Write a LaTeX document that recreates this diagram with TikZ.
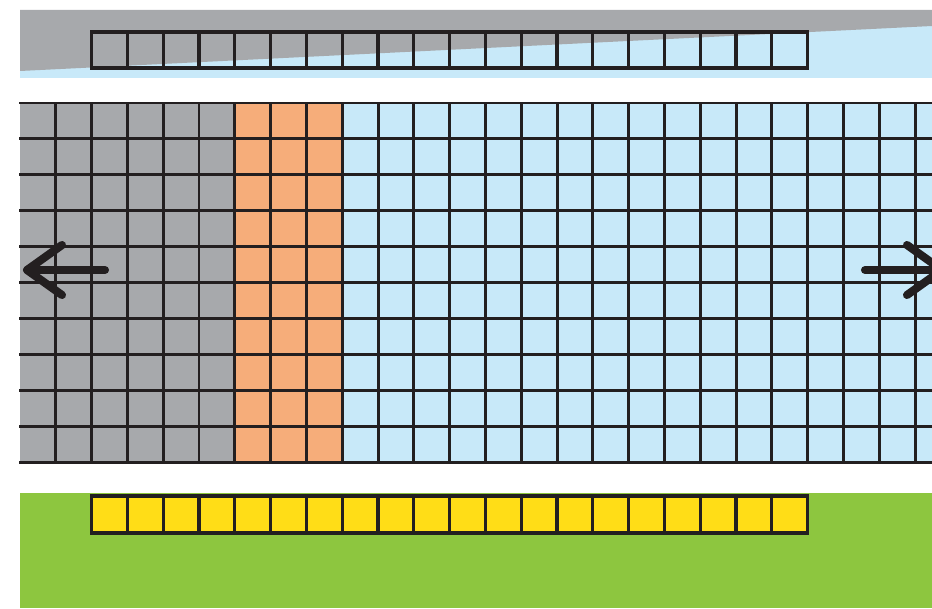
\documentclass[tikz,border=0pt]{standalone}
\usetikzlibrary{calc}
\definecolor{cGrey}{HTML}{A7A9AC}
\definecolor{cSky}{HTML}{C8E9F9}
\definecolor{cPeach}{HTML}{F6AD7A}
\definecolor{cLeaf}{HTML}{8DC63F}
\definecolor{cSun}{HTML}{FFDD17}
\definecolor{cInk}{HTML}{231F20}
\begin{document}
\begin{tikzpicture}[
  x=0.02cm, y=-0.02cm,
  gridln/.style={line width=1.7pt,color=cInk},
  cell/.style={line width=1.8pt,color=cInk},
  mv/.style={line width=4.6pt,color=cInk,line cap=round,line join=round},
]
\useasboundingbox (0,0) rectangle (932,608);
\clip (0,0) rectangle (932,608);

% ============================================================ top band
\fill[cSky] (20,10) rectangle (932,78);
\fill[cGrey] (20,10) -- (932,10) -- (932,26) -- (20,71) -- cycle;
% row of empty cells over the band
\foreach \i in {0,...,19}
  \draw[cell] ({91.6+\i*35.8},32) rectangle ++(35.8,36);

% ============================================================ main grid
\fill[cGrey]  (20,103)    rectangle (234.8,462);
\fill[cPeach] (234.8,103) rectangle (342.2,462);
\fill[cSky]   (342.2,103) rectangle (932,462);
\foreach \j in {0,...,10}
  \draw[gridln] (19,{103+\j*35.9}) -- (932,{103+\j*35.9});
\foreach \i in {1,...,25}
  \draw[gridln] ({20+\i*35.8},103) -- ++(0,359);

% scroll arrows, left and right
\draw[mv] (62,245) -- (27,270) -- (62,295);
\draw[mv] (27,270) -- (105,270);
\draw[mv] (907,245) -- (942,270) -- (907,295);
\draw[mv] (942,270) -- (865,270);

% ============================================================ bottom band
\fill[cLeaf] (20,493) rectangle (932,608);
\foreach \i in {0,...,19}
  \draw[cell,fill=cSun] ({91.6+\i*35.8},496) rectangle ++(35.8,37);

\end{tikzpicture}
\end{document}
